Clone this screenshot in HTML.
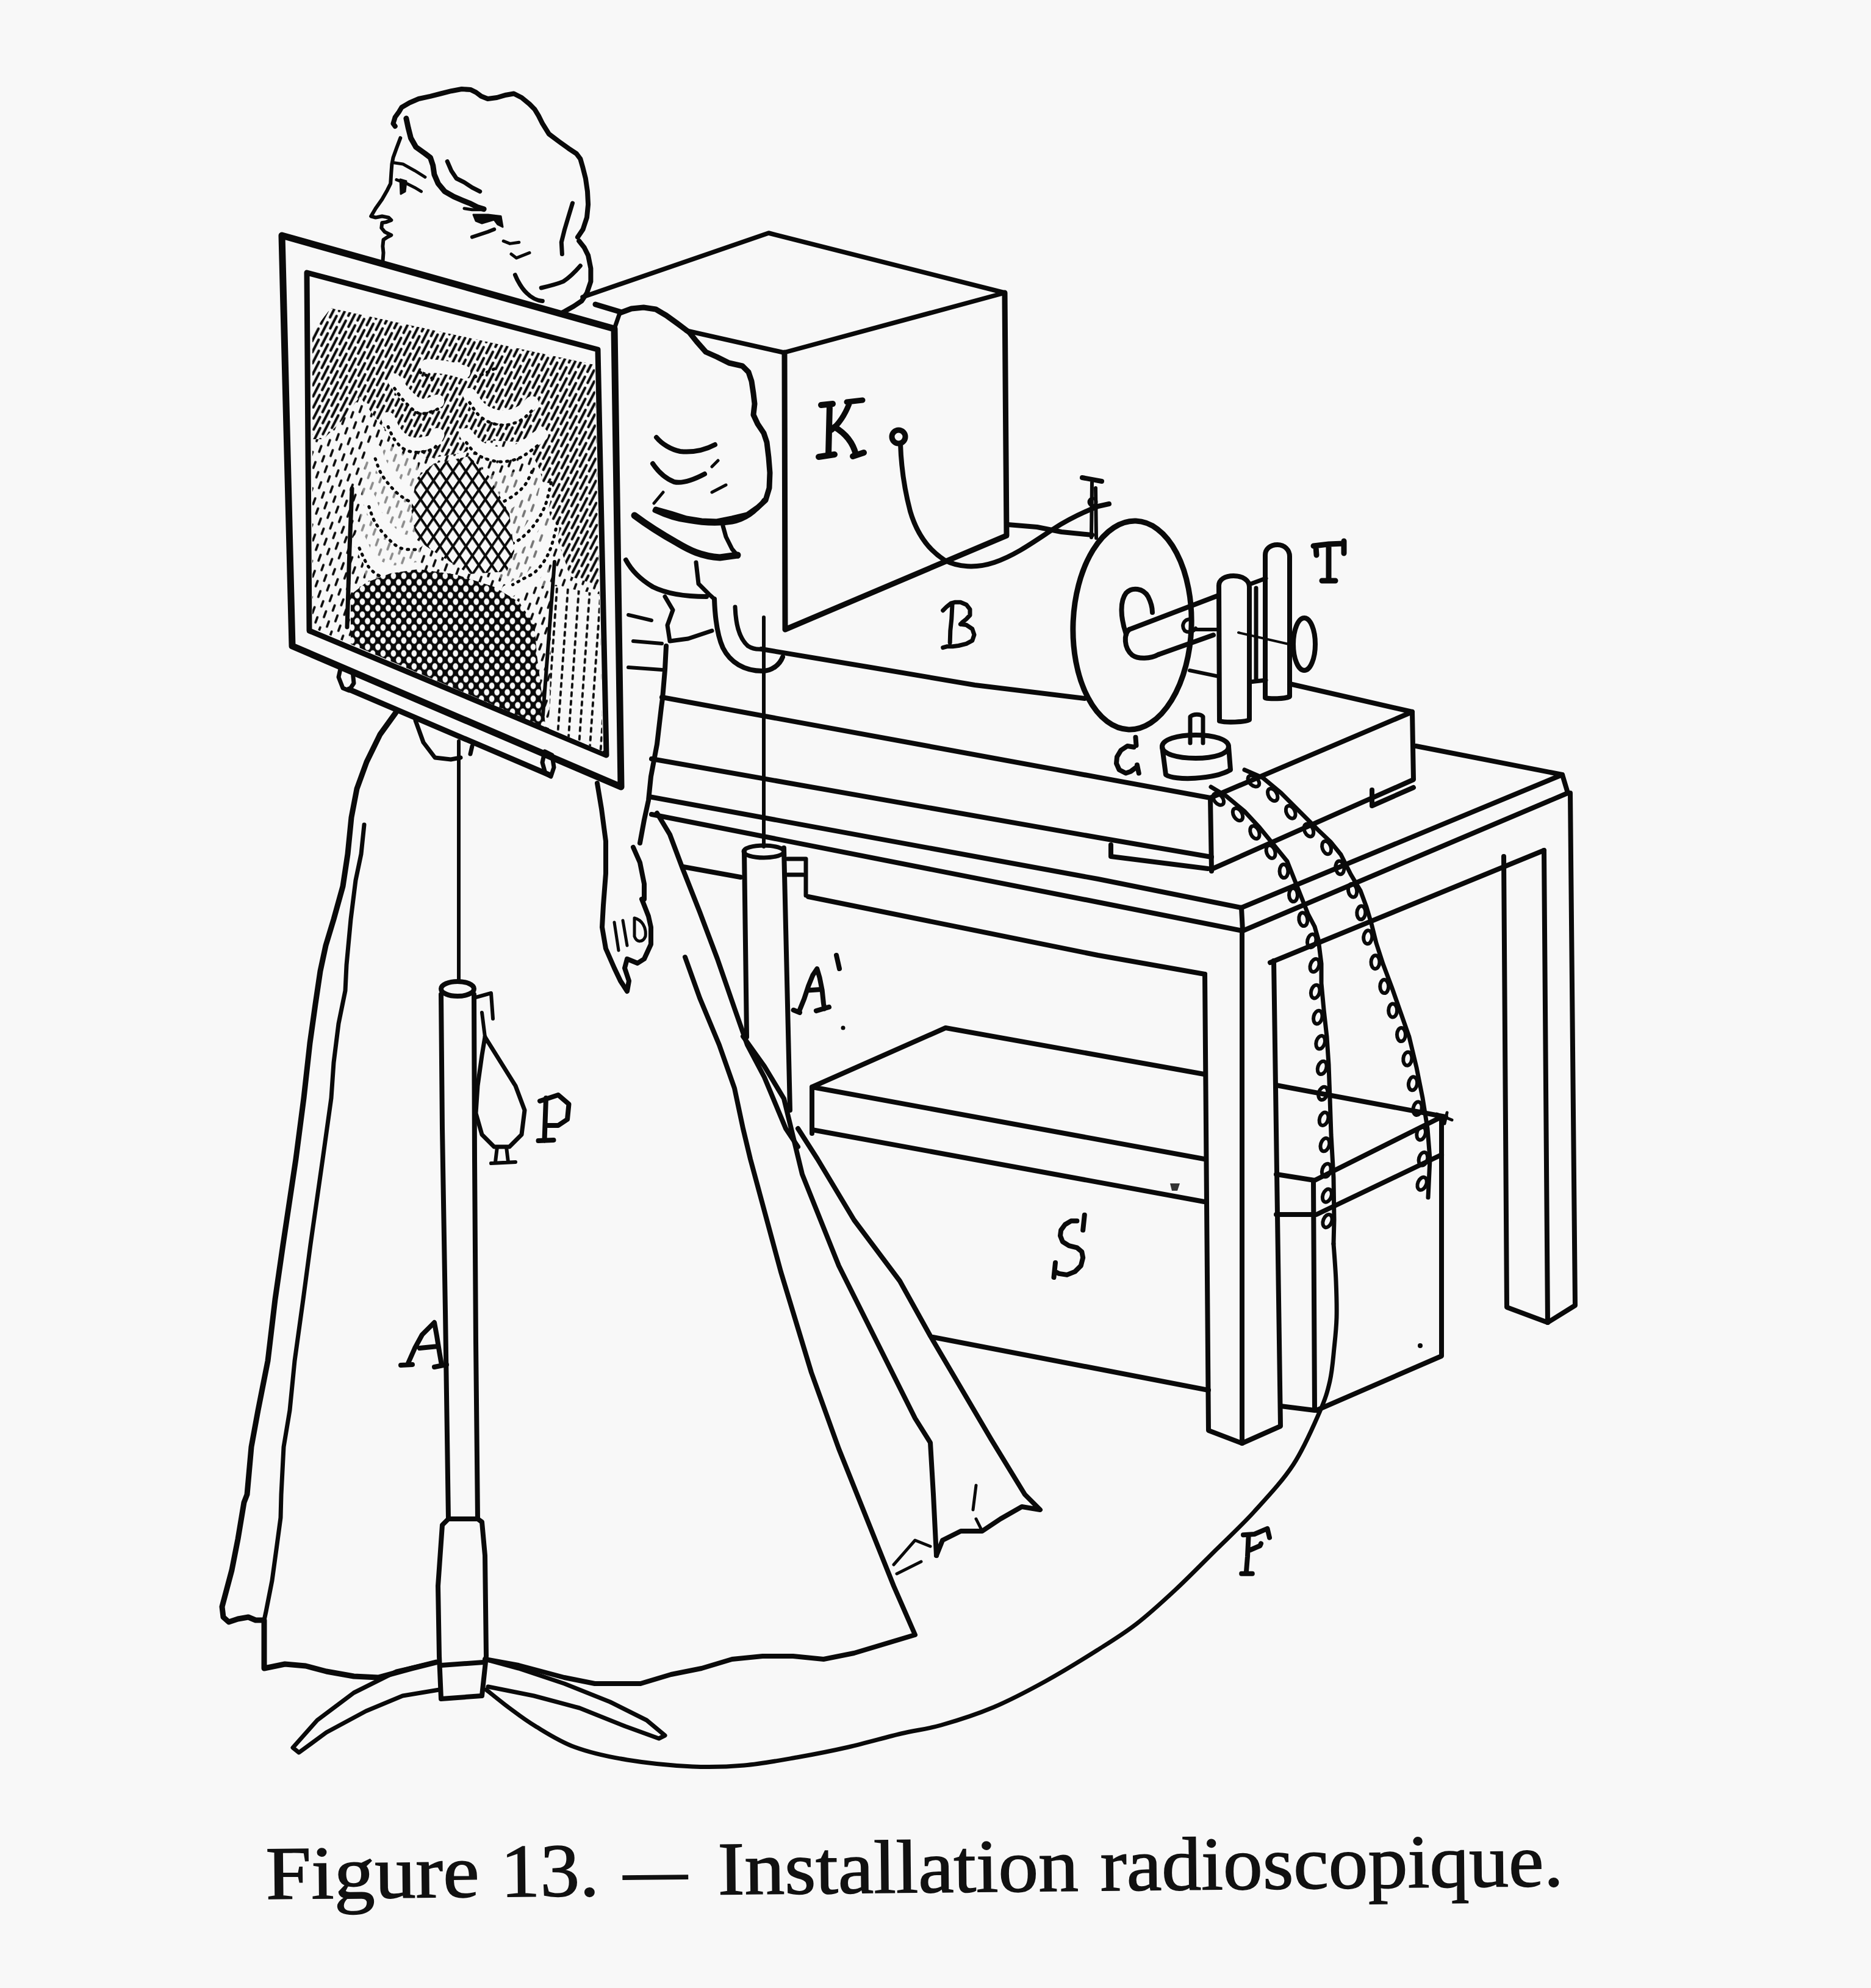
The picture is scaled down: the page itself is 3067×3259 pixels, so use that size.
<!DOCTYPE html>
<html><head><meta charset="utf-8"><style>
html,body{margin:0;padding:0;background:#f8f8f8;}
body{width:3067px;height:3259px;overflow:hidden;position:relative;}
svg{position:absolute;left:0;top:0;}
.capc{position:absolute;left:0;top:0;width:3067px;height:3259px;transform-origin:440px 3114px;transform:rotate(-0.58deg);}
.capc span{position:absolute;top:3010px;font-family:"Liberation Serif",serif;font-weight:normal;font-size:124px;color:#111;-webkit-text-stroke:1.6px #111;white-space:nowrap;line-height:1;transform-origin:0 0;}
</style></head><body>
<svg width="3067" height="3259" viewBox="0 0 3067 3259">
<defs>
<clipPath id="pic"><path d="M512,545 L542,505 L975,598 L988,1232 L512,1029 Z"/></clipPath>
<pattern id="hatch" patternUnits="userSpaceOnUse" width="17" height="32" patternTransform="rotate(27)">
 <line x1="4.25" y1="3" x2="4.25" y2="26" stroke="#0a0a0a" stroke-width="4.2" stroke-linecap="round"/>
 <line x1="12.75" y1="19" x2="12.75" y2="32" stroke="#0a0a0a" stroke-width="4.2" stroke-linecap="round"/>
 <line x1="12.75" y1="0" x2="12.75" y2="10" stroke="#0a0a0a" stroke-width="4.2" stroke-linecap="round"/>
</pattern>
<pattern id="hatchs" patternUnits="userSpaceOnUse" width="20" height="28" patternTransform="rotate(20)">
 <line x1="5" y1="3" x2="5" y2="13" stroke="#0a0a0a" stroke-width="3.8" stroke-linecap="round"/>
 <line x1="15" y1="17" x2="15" y2="26" stroke="#0a0a0a" stroke-width="3.8" stroke-linecap="round"/>
</pattern>
<pattern id="vdash" patternUnits="userSpaceOnUse" width="18" height="14" patternTransform="rotate(4)">
 <line x1="6" y1="3" x2="6" y2="9" stroke="#0a0a0a" stroke-width="3.8" stroke-linecap="round"/>
</pattern>
<pattern id="xh" patternUnits="userSpaceOnUse" width="15" height="15" patternTransform="scale(1,1.45) rotate(45)">
 <path d="M0,0 L15,0 M0,0 L0,15" stroke="#0a0a0a" stroke-width="7"/>
</pattern>
<pattern id="xh2" patternUnits="userSpaceOnUse" width="12" height="12" patternTransform="scale(1,1.25) rotate(45)">
 <rect width="12" height="12" fill="#0a0a0a"/>
 <circle cx="6" cy="6" r="4.3" fill="#f8f8f8"/>
</pattern>
</defs>
<g fill="none" stroke="#0a0a0a" stroke-linecap="round" stroke-linejoin="round">
<g id="head" stroke-width="8">
<path d="M647.7,207 L644.5,202.7 647.7,192 654,183.4 658.4,176 671.2,168.5 686.2,162 705.4,157.8 722.5,153.5 739.7,149.2 756.8,146 771.7,147.1 780.3,151.4 788.8,157.8 799.5,162 814.5,160 829.4,155.7 842.3,153.5 855.1,160 868,170.6 876.5,179.2 882.9,189.9 889.3,202.7 900,219.8 917.1,232.6 932,243.3 944.9,251.9 951.3,260.4 955.6,275.4 959.9,292.5 963,313.9 964.1,335.2 962,356.6 955.6,375.9 947,388.7"/>
<path d="M949.2,395.1 L957.7,405.8 964.1,418.6 968.4,440 968.4,461.4 962,480.6 953.4,493.4 940.6,502 925.6,510.5 917.1,514.8"/>
<path d="M887.2,472 C900,469 915,465 923.5,461.4 C933,455 945,443 951.3,435.7" stroke-width="7"/>
<path d="M844.4,450.7 C848,460 856,474 863.6,480.6 C870,487 880,493 889.3,493.4" stroke-width="7"/>
<path d="M938.5,333.1 L932,354.5 925.6,375.9 920.3,397.2 921.4,416.5" stroke-width="7"/>
<path d="M665.9,194.1 L669.1,209.1 673.4,226.2 681.9,241.2 696.9,251.9 705.4,258.3 709.7,271.1 711.9,286.1 718.3,301 729,313.9 743.9,322.4 758.9,328.8 769.6,333.1 782.4,339.5 793.1,342.7" stroke-width="9"/>
<path d="M733.2,264.7 L739.7,279.7 748.2,292.5 761,298.9 773.9,307.4 786.7,313.9" stroke-width="7"/>
<path d="M656.3,226.2 L649.9,243.3 644.5,258.3 642.4,269 641.3,283.9 640.2,301 634.9,311.7 626.3,326.7 615.7,341.7 608.2,354.5 615.7,356.6 626.3,354.5 637,356.6 641.3,360.9 632.8,364.1 626.3,365.2 625.3,373.7 630.6,380.1 641.3,385.5 634.9,388.7 628.5,393 627.4,403.7 628.5,414.4 627.4,429.3" stroke-width="6"/>
<path d="M645.6,266.8 L660.6,269 679.8,279.7 696.9,290.3" stroke-width="5"/>
<path d="M649.9,294.6 L667,301 679.8,307.4 690.5,313.9" stroke-width="5"/>
<path d="M656,294 L666,297 664,314 657,318 Z" fill="#0a0a0a" stroke-width="3"/>
<path d="M773.9,388.7 L786.7,384.4 799.5,380.1 810.2,375.9" stroke-width="6"/>
<path d="M761,341.7 L773.9,343.8 793.1,343.8" stroke-width="5"/>
<path d="M776,352 L800,352 821,354.5 824,372 816,368 810,360 790,366 780,362 Z" fill="#0a0a0a" stroke-width="3"/>
<path d="M825.2,395.1 L835.9,399.4 850.8,397.2" stroke-width="5"/>
<path d="M838,416.5 L846.6,422.9 868,414.4" stroke-width="5"/>
</g>
<g id="frame">
<path d="M462,386 L1007,539 L1018,1290 L479,1059 Z" stroke-width="11"/>
<path d="M503,447 L980,573 L994,1238 L507,1034 Z" stroke-width="9"/>
<path d="M572,1130 L902,1271" stroke-width="9"/>
<path d="M559,1092 L555,1110 562,1128 572,1132 580,1120 578,1100 Z" stroke-width="7"/>
<path d="M893,1232 L889,1250 894,1268 903,1273 908,1258 905,1238 Z" stroke-width="7"/>
<path d="M1007,539 L1016,513" stroke-width="7"/>
</g>
<g id="xray" clip-path="url(#pic)" stroke="none">
<rect x="500" y="440" width="500" height="800" fill="url(#hatchs)"/>
<path d="M512,545 L542,505 L975,598 L982,960 L935,945 L905,860 L885,770 L862,725 L800,722 L760,742 L700,752 L660,732 L620,692 L590,650 L560,690 L530,720 L512,720 Z" fill="#f8f8f8"/>
<path d="M512,545 L542,505 L975,598 L982,960 L935,945 L905,860 L885,770 L862,725 L800,722 L760,742 L700,752 L660,732 L620,692 L590,650 L560,690 L530,720 L512,720 Z" fill="url(#hatch)"/>
<path d="M905,960 L988,975 L988,1232 L900,1195 Z" fill="#f8f8f8"/>
<path d="M905,960 L988,975 L988,1232 L900,1195 Z" fill="url(#vdash)"/>
<path d="M600,735 L640,730 685,760 690,960 640,965 600,950 588,880 Z" fill="#f8f8f8" opacity="0.55"/>
<path d="M800,780 L870,770 900,800 900,960 840,965 800,930 Z" fill="#f8f8f8" opacity="0.45"/>
<g fill="none" stroke="#f8f8f8" stroke-width="22" stroke-linecap="round">
<path d="M646.7,623.7 C649.3,627.2 656.3,638.1 662.4,644.6 C668.5,651.1 677.2,659.7 683.3,663.0 C689.4,666.3 693.3,665.2 699.0,664.3 C704.7,663.4 714.3,658.8 717.4,657.7"/>
<path d="M636.2,686.5 C638.0,690.0 642.3,701.4 646.7,707.5 C651.1,713.6 656.3,719.7 662.4,723.2 C668.5,726.7 675.4,728.4 683.3,728.4 C691.1,728.4 703.8,725.8 709.5,723.2 C715.2,720.6 716.1,714.5 717.4,712.7"/>
<path d="M615.2,739.0 C617.0,743.3 620.5,756.3 625.7,765.0 C631.0,773.7 639.7,784.3 646.7,791.3 C653.7,798.3 662.4,804.0 667.6,807.0 C672.8,810.0 676.3,809.2 678.0,809.6"/>
<path d="M604.8,817.5 C606.5,821.9 610.0,835.0 615.2,843.7 C620.4,852.4 629.2,862.9 636.2,869.9 C643.2,876.9 649.4,882.5 657.2,885.6 C665.1,888.7 678.9,887.8 683.3,888.2"/>
<path d="M589.0,885.6 C591.6,890.8 598.7,909.1 604.8,917.0 C610.9,924.9 617.8,929.2 625.7,932.7 C633.6,936.2 642.4,938.0 652.0,938.0 C661.6,938.0 678.1,933.6 683.3,932.7"/>
<path d="M769.8,647.0 C772.0,650.1 777.7,660.3 782.9,665.6 C788.1,670.9 793.8,675.6 801.2,678.7 C808.6,681.8 818.7,684.5 827.4,684.0 C836.1,683.5 846.2,680.0 853.6,676.0 C861.0,672.0 868.9,662.9 872.0,660.3"/>
<path d="M764.5,712.7 C766.7,715.3 772.4,724.0 777.6,728.4 C782.9,732.8 788.6,736.4 796.0,739.0 C803.4,741.6 813.3,744.0 822.0,744.0 C830.7,744.0 840.9,741.6 848.4,739.0 C855.9,736.4 860.2,732.8 866.7,728.4 C873.2,724.0 884.1,715.3 887.6,712.7"/>
<path d="M864.0,783.9 C862.2,787.4 857.8,798.7 853.4,804.8 C849.0,810.9 843.8,815.7 837.7,820.5 C831.6,825.3 822.9,830.5 816.8,833.6 C810.7,836.7 803.6,838.0 801.0,838.9"/>
<path d="M895.4,802.2 C893.7,808.8 889.8,829.7 885.0,841.5 C880.2,853.3 873.1,864.3 866.5,873.0 C859.9,881.7 852.1,888.7 845.6,893.9 C839.1,899.1 830.3,902.6 827.3,904.3"/>
<path d="M905.8,867.7 C903.6,875.6 898.4,901.7 892.7,914.8 C887.0,927.9 879.6,938.3 871.8,946.2 C863.9,954.1 852.1,958.1 845.6,962.0 C839.1,965.9 834.7,968.2 832.5,969.5"/>
<path d="M700,600 Q730,600 760,610"/>
</g>
<g fill="none" stroke="#0a0a0a" stroke-width="5" stroke-dasharray="2 9" stroke-linecap="round">
<path d="M646.7,636.7 C649.3,640.2 656.3,651.1 662.4,657.6 C668.5,664.1 677.2,672.7 683.3,676.0 C689.4,679.3 693.3,678.2 699.0,677.3 C704.7,676.4 714.3,671.8 717.4,670.7"/>
<path d="M636.2,699.5 C638.0,703.0 642.3,714.4 646.7,720.5 C651.1,726.6 656.3,732.7 662.4,736.2 C668.5,739.7 675.4,741.4 683.3,741.4 C691.1,741.4 703.8,738.8 709.5,736.2 C715.2,733.6 716.1,727.5 717.4,725.7"/>
<path d="M615.2,752.0 C617.0,756.3 620.5,769.3 625.7,778.0 C631.0,786.7 639.7,797.3 646.7,804.3 C653.7,811.3 662.4,817.0 667.6,820.0 C672.8,823.0 676.3,822.2 678.0,822.6"/>
<path d="M604.8,830.5 C606.5,834.9 610.0,848.0 615.2,856.7 C620.4,865.4 629.2,875.9 636.2,882.9 C643.2,889.9 649.4,895.5 657.2,898.6 C665.1,901.7 678.9,900.8 683.3,901.2"/>
<path d="M589.0,898.6 C591.6,903.8 598.7,922.1 604.8,930.0 C610.9,937.9 617.8,942.2 625.7,945.7 C633.6,949.2 642.4,951.0 652.0,951.0 C661.6,951.0 678.1,946.6 683.3,945.7"/>
<path d="M769.8,660.0 C772.0,663.1 777.7,673.3 782.9,678.6 C788.1,683.9 793.8,688.6 801.2,691.7 C808.6,694.8 818.7,697.5 827.4,697.0 C836.1,696.5 846.2,693.0 853.6,689.0 C861.0,685.0 868.9,675.9 872.0,673.3"/>
<path d="M764.5,725.7 C766.7,728.3 772.4,737.0 777.6,741.4 C782.9,745.8 788.6,749.4 796.0,752.0 C803.4,754.6 813.3,757.0 822.0,757.0 C830.7,757.0 840.9,754.6 848.4,752.0 C855.9,749.4 860.2,745.8 866.7,741.4 C873.2,737.0 884.1,728.3 887.6,725.7"/>
<path d="M872.0,772.9 C870.2,776.4 865.8,787.7 861.4,793.8 C857.0,799.9 851.8,804.7 845.7,809.5 C839.6,814.3 830.9,819.5 824.8,822.6 C818.7,825.7 811.6,827.0 809.0,827.9"/>
<path d="M903.4,791.2 C901.7,797.8 897.8,818.7 893.0,830.5 C888.2,842.3 881.1,853.3 874.5,862.0 C867.9,870.7 860.1,877.7 853.6,882.9 C847.1,888.1 838.3,891.6 835.3,893.3"/>
<path d="M913.8,856.7 C911.6,864.6 906.4,890.7 900.7,903.8 C895.0,916.9 887.6,927.3 879.8,935.2 C871.9,943.1 860.1,947.1 853.6,951.0 C847.1,954.9 842.7,957.2 840.5,958.5"/>
<path d="M688,610 L710,621"/>
<path d="M778,618 L793,613 814,603"/>
</g>

<!-- heart crosshatch -->
<path d="M711,760 L769,748 802,781 835,842 843,904 831,937 769,941 711,904 682,884 674,834 682,785 Z" fill="#f8f8f8"/>
<path d="M711,760 L769,748 802,781 835,842 843,904 831,937 769,941 711,904 682,884 674,834 682,785 Z" fill="url(#xh)"/>
<!-- diaphragm crosshatch -->
<path d="M575,975 L600,955 640,940 686,933 748,942 810,962 851,987 876,1024 880,1073 892,1168 895,1200 575,1060 Z" fill="url(#xh2)"/>
</g>
<g id="xraylines">
<path d="M577,801 L573,900 569,1028" stroke-width="7"/>
<path d="M909,921 L900,1040 890,1172" stroke-width="6"/>
</g>
<g id="kbox" stroke-width="9">
<path d="M955,487 L1260,382 L1647,480 L1285,578 L1125,542" stroke-width="7.5"/>
<path d="M1647,480 L1650,878 L1287,1032 L1286,578"/>
<path d="M976,499 L1016,511"/>
<circle cx="1473" cy="716" r="11" stroke-width="9"/>
<path d="M1476,727 C1477,760 1482,800 1492,838 C1502,872 1520,900 1548,918 C1570,930 1600,932 1630,922 C1665,910 1695,888 1727,867 C1750,852 1775,840 1800,830 L1818,826" stroke-width="8"/>
</g>
<g id="base" stroke-width="8">
<path d="M1652,860 L1700,864 L1740,872 L1790,877"/>
<path d="M1248,1064 L1427,1094 L1598,1123 L1778,1145"/>
<path d="M1171,982 C1172,1010 1175,1040 1185,1062 C1197,1086 1220,1100 1250,1100 C1265,1100 1278,1090 1283,1077" stroke-width="8"/>
<path d="M1205,995 C1206,1020 1210,1045 1226,1059 C1234,1064 1242,1065 1250,1064" stroke-width="7"/>
<path d="M1774,783 L1806,789" stroke-width="8"/>
<path d="M1790,791 L1789,881 M1796,800 L1797,882" stroke-width="6"/>
<circle cx="1791" cy="823" r="6" stroke-width="5"/>
</g>
<g id="disk" stroke-width="9">
<ellipse cx="1856" cy="1025" rx="97" ry="171" transform="rotate(2 1856 1025)"/>
<path d="M1846,1040 C1836,1010 1836,985 1846,972 C1856,962 1874,964 1882,978 C1887,988 1889,996 1889,1004" stroke-width="8"/>
<path d="M1851,1032 L1995,977 M1899,1073 L1989,1041" stroke-width="8"/>
<path d="M1851,1032 C1842,1040 1842,1062 1856,1074 C1866,1081 1886,1080 1899,1073" stroke-width="8"/>
<path d="M1957,1032 L1995,1032 M1950,1099 L1998,1109" stroke-width="6"/>
<path d="M1950,1015 C1940,1016 1936,1026 1942,1034 C1948,1038 1956,1036 1960,1030" stroke-width="6"/>
<path d="M1999,1182 L1998,960 C1998,950 2008,944 2022,944 C2038,944 2048,952 2048,962 L2048,1180 C2040,1184 2010,1185 1999,1182 Z" stroke-width="8"/>
<path d="M2048,958 L2075,948 M2048,1118 L2075,1115 M2059,964 L2059,1115" stroke-width="7"/>
<path d="M2074,1144 L2074,910 C2074,900 2082,893 2094,893 C2106,893 2114,902 2114,912 L2114,1142 C2105,1146 2082,1146 2074,1144 Z" stroke-width="8"/>
<ellipse cx="2138" cy="1056" rx="18" ry="43" stroke-width="8"/>
<path d="M2030,1037 L2117,1057" stroke-width="4"/>
</g>
<g id="gcyl" stroke-width="8">
<path d="M1905,1224 C1905,1212 1930,1205 1960,1205 C1990,1205 2014,1212 2014,1224 C2014,1236 1990,1243 1960,1243 C1930,1243 1905,1236 1905,1224 Z"/>
<path d="M1905,1224 L1911,1270 C1925,1280 1990,1278 2017,1262 L2014,1224"/>
<path d="M1951,1218 L1951,1175 C1956,1170 1968,1170 1972,1175 L1972,1218" stroke-width="7"/>
</g>
<g id="slab" stroke-width="8">
<path d="M2114,1121 L2315,1167 L2317,1278 L1988,1424"/>
<path d="M1984,1308 L2315,1167"/>
<path d="M1085,1143 L1984,1308 L1986,1428"/>
<path d="M1068,1244 L1800,1373 L1986,1405"/>
</g>

<g id="slab2" stroke-width="8">
<path d="M1821,1385 L1821,1404 L1980,1424"/>
<path d="M2249,1295 L2249,1321 L2317,1291"/>
</g>
<g id="table" stroke-width="8">
<path d="M1064,1306 L1800,1441 L2035,1488 L2561,1270 L2321,1223"/>
<path d="M1068,1335 L1800,1479 L2037,1526 L2570,1300 L2561,1270"/>
<path d="M2035,1488 L2037,1526"/>
<path d="M1120,1421 L1214,1438 M1325,1470 L1800,1566 L1975,1597"/>
<path d="M2082,1578 L2531,1394"/>
<path d="M1975,1597 L1981,2345 L2036,2366 L2099,2338 L2088,1575"/>
<path d="M2036,1526 L2036,2366"/>
<path d="M2465,1404 L2470,2143 L2537,2168 L2582,2140 L2574,1300"/>
<path d="M2531,1394 L2537,2168"/>
</g>
<g id="apole" stroke-width="8">
<ellipse cx="1252" cy="1396" rx="33" ry="10" stroke-width="7"/>
<path d="M1220,1396 L1224,1700"/>
<path d="M1285,1390 L1295,1820"/>
<path d="M1252,1012 L1252,1388" stroke-width="6"/>
<path d="M1291,1408 L1321,1408 L1321,1468 M1291,1434 L1316,1434" stroke-width="7"/>
</g>
<g id="sbox" stroke-width="8">
<path d="M1331,1858 L1331,1782 L1550,1685 L1974,1761"/>
<path d="M2092,1779 L2370,1831 L2363,1831 L2363,2223 L2158,2312"/>
<path d="M1331,1782 L1974,1900 M2092,1925 L2155,1935 L2363,1831"/>
<path d="M1331,1852 L1974,1970 M2092,1991 L2158,1991 L2363,1893"/>
<path d="M2153,1935 L2155,2312 L2099,2305"/>
<path d="M1529,2192 L1981,2279"/>
</g>
<circle cx="2328" cy="2206" r="4" fill="#0a0a0a" stroke="none"/>
<path d="M1918,1940 L1934,1940 L1930,1952 L1921,1952 Z" fill="#333" stroke="none"/>
<path d="M2355,1826 L2380,1836 M2372,1824 L2368,1842" stroke-width="5"/>

<g id="woman" stroke-width="8">
<!-- sleeve -->
<path d="M1016,513 L1035,506 1055,504 1075,507 1092,517 1110,530 1130,545 1142,560 1157,577 1175,585 1195,595 1217,600 1227,610 1232,625 1235,645 1237,662 1235,680 1242,695 1252,710 1257,725 1260,750 1262,775 1261,800 1255,820 1242,832 1225,844 1200,850 1175,855 1150,854 1125,850 1100,842 1075,835" stroke-width="9"/>
<path d="M1076,717 C1085,728 1100,737 1115,740 C1135,742 1155,738 1172,729" stroke-width="8"/>
<path d="M1070,760 C1078,772 1090,784 1105,790 C1118,793 1138,786 1155,777" stroke-width="8"/>
<path d="M1167,765 L1177,755 M1167,807 L1190,795 M1072,825 L1087,807" stroke-width="5"/>
<path d="M1040,845 C1060,860 1085,876 1110,890 C1130,902 1150,912 1180,914 L1209,910" stroke-width="11"/>
<path d="M1073,837 C1090,845 1110,852 1128,854 C1150,858 1175,860 1200,856 C1220,852 1240,840 1252,820" stroke-width="7"/>
<path d="M1185,862 L1190,880 1200,900 1210,912" stroke-width="7"/>
<path d="M1141,922 L1145,957 1162,974 1171,982" stroke-width="7"/>
<path d="M1026,918 C1035,935 1050,950 1070,962 C1090,972 1120,978 1158,978" stroke-width="8"/>
<path d="M1090,978 L1103,1000 1094,1025 1098,1051 1128,1047 1167,1034" stroke-width="7"/>
<path d="M1030,1008 L1068,1017 M1038,1051 L1085,1055 M1030,1094 L1085,1098" stroke-width="6"/>
<!-- bodice right edge -->
<path d="M1092,1059 L1090,1098 1086,1145 1084,1160 1077,1220 1067,1273 1063,1312 1056,1344 1049,1382" stroke-width="8"/>
<!-- arm -->
<path d="M979,1284 L986,1326 993,1379 993,1432 989,1484 987,1520 993,1555 1007,1587 1017,1608 1028,1625 1031,1608 1024,1587 1028,1572 1045,1579 1056,1572 1067,1548 1067,1520 1063,1502 1056,1484 1052,1474" stroke-width="8"/>
<path d="M1038,1389 L1049,1414 1056,1449 1056,1474" stroke-width="8"/>
<path d="M1007,1512 L1014,1558 M1021,1509 L1028,1550 M1040,1505 C1052,1508 1060,1520 1058,1535 C1054,1545 1044,1546 1040,1535 Z" stroke-width="5"/>
<!-- torso below screen -->
<path d="M681,1181 L694,1217 713,1242 739,1245 755,1242" stroke-width="7"/>
<path d="M771,1236 L774,1223" stroke-width="7"/>
<!-- dress left outer -->
<path d="M649,1168 L623,1204 601,1249 585,1293 576,1340 570,1400 562,1453 547,1507 534,1550 525,1592 517,1646 508,1710 498,1800 485,1900 464,2040 451,2130 439,2231 423,2312 412,2372 405,2450 400,2463 390,2523 380,2574 364,2634 366,2651 375,2659 390,2654 407,2651 419,2656 433,2656 L433,2735 467,2728 501,2731 535,2740 580,2748 620,2750 675,2735 715,2725" stroke-width="9"/>
<!-- dress left inner fold -->
<path d="M597,1352 L592,1400 583,1443 575,1507 568,1582 566,1624 555,1678 547,1742 543,1800 529,1900 509,2040 497,2130 483,2231 475,2312 465,2372 461,2450 460,2488 453,2540 446,2591 436,2642 433,2656" stroke-width="7"/>
<!-- dress right lines -->
<path d="M1077,1333 L1098,1368 1119,1424 1147,1495 1176,1572 1204,1653 1225,1713 1253,1766 1288,1850 1308,1880" stroke-width="8"/>
<path d="M1123,1569 L1147,1636 1179,1713 1204,1784 1218,1850 1230,1900 1280,2085 1330,2250 1375,2375 1425,2500 1465,2600 1500,2680 1450,2695 1400,2710 1350,2720 1300,2715 1250,2715 1200,2720 1150,2735 1100,2745 1050,2760 975,2760 925,2750 850,2730 795,2720" stroke-width="8"/>
<path d="M1218,1699 L1253,1748 1285,1801 1315,1925 1375,2075 1450,2225 1500,2325 1525,2365 1530,2450 1535,2550" stroke-width="8"/>
<path d="M1308,1850 L1340,1900 1400,2000 1475,2100 1525,2190 1575,2275 1625,2360 1680,2450 1705,2475 1675,2470 1640,2490 1610,2510 1575,2510 1545,2525 1535,2550" stroke-width="8"/>
<path d="M1465,2565 L1500,2525 1525,2535 M1470,2580 L1510,2560 M1600,2435 L1595,2475 M1600,2490 L1610,2510" stroke-width="5"/>
</g>
<g id="stand" stroke-width="8">
<path d="M752,1215 L752,1608" stroke-width="6"/>
<ellipse cx="750" cy="1621" rx="27" ry="12" stroke-width="8"/>
<path d="M723,1630 L725,1850 730,2150 735,2490"/>
<path d="M777,1630 L778,1900 780,2200 783,2490"/>
<path d="M735,2490 L725,2500 718,2600 720,2715 723,2785 L790,2780 797,2715 795,2550 790,2495 L783,2490 Z"/>
<path d="M723,2730 L793,2725"/>
<path d="M715,2725 L650,2740 580,2775 520,2820 480,2865 490,2873 535,2840 600,2805 660,2780 720,2770" stroke-width="7"/>
<path d="M795,2720 L850,2735 925,2760 1000,2790 1060,2820 1090,2845 1080,2850 1025,2830 950,2800 875,2780 800,2765" stroke-width="7"/>
<path d="M795,1700 L820,1740 845,1780 860,1820 855,1860 835,1880 810,1880 790,1860 780,1825 783,1780 790,1730 795,1700" stroke-width="7"/>
<path d="M780,1635 L805,1628 808,1670 M790,1660 L795,1700" stroke-width="6"/>
<path d="M815,1880 L812,1905 M830,1880 L833,1905 M805,1907 L845,1905" stroke-width="6"/>
</g>
<g id="cableF" stroke-width="8">
<path d="M2186.0,2039.0 C2186.7,2049.2 2189.2,2079.8 2190.0,2100.0 C2190.8,2120.2 2191.5,2141.7 2191.0,2160.0 C2190.5,2178.3 2188.8,2192.7 2187.0,2210.0 C2185.2,2227.3 2184.0,2246.5 2180.0,2264.0 C2176.0,2281.5 2173.0,2292.2 2163.0,2315.0 C2153.0,2337.8 2137.8,2373.8 2120.0,2401.0 C2102.2,2428.2 2077.3,2454.5 2056.0,2478.0 C2034.7,2501.5 2013.5,2520.7 1992.0,2542.0 C1970.5,2563.3 1948.5,2586.0 1927.0,2606.0 C1905.5,2626.0 1884.3,2645.5 1863.0,2662.0 C1841.7,2678.5 1823.8,2689.3 1799.0,2705.0 C1774.2,2720.7 1742.5,2740.3 1714.0,2756.0 C1685.5,2771.7 1656.5,2787.0 1628.0,2799.0 C1599.5,2811.0 1568.2,2820.8 1543.0,2828.0 C1517.8,2835.2 1502.3,2836.0 1477.0,2842.0 C1451.7,2848.0 1419.5,2857.5 1391.0,2864.0 C1362.5,2870.5 1334.5,2876.0 1306.0,2881.0 C1277.5,2886.0 1248.5,2891.5 1220.0,2894.0 C1191.5,2896.5 1167.0,2897.5 1135.0,2896.0 C1103.0,2894.5 1060.2,2890.3 1028.0,2885.0 C995.8,2879.7 967.0,2873.2 942.0,2864.0 C917.0,2854.8 895.8,2840.7 878.0,2830.0 C860.2,2819.3 848.5,2810.0 835.0,2800.0 C821.5,2790.0 803.3,2775.0 797.0,2770.0" stroke-width="7"/>
</g>

<g id="coil">
<path d="M1985,1290 L2010,1305 L2040,1330 L2065,1357 L2088,1385 L2110,1412 L2131,1465 L2144,1498 L2155,1519 L2161,1540 L2166,1580 L2166,1612 L2170,1655 L2175,1700 L2178,1745 L2180,1800 L2182,1860 L2186,1930 L2187,2000 L2186,2039" stroke-width="7"/>
<ellipse cx="1997.3" cy="1310.2" rx="7" ry="11" transform="rotate(-39.0 1997.3 1310.2)" stroke-width="6"/>
<ellipse cx="2029.0" cy="1335.1" rx="7" ry="11" transform="rotate(-30.2 2029.0 1335.1)" stroke-width="6"/>
<ellipse cx="2056.9" cy="1364.5" rx="7" ry="11" transform="rotate(-22.8 2056.9 1364.5)" stroke-width="6"/>
<ellipse cx="2083.1" cy="1396.4" rx="7" ry="11" transform="rotate(-19.2 2083.1 1396.4)" stroke-width="6"/>
<ellipse cx="2104.5" cy="1428.1" rx="7" ry="11" transform="rotate(-1.6 2104.5 1428.1)" stroke-width="6"/>
<ellipse cx="2120.0" cy="1467.1" rx="7" ry="11" transform="rotate(-1.6 2120.0 1467.1)" stroke-width="6"/>
<ellipse cx="2136.3" cy="1507.1" rx="7" ry="11" transform="rotate(-7.6 2136.3 1507.1)" stroke-width="6"/>
<ellipse cx="2150.2" cy="1542.3" rx="7" ry="11" transform="rotate(12.9 2150.2 1542.3)" stroke-width="6"/>
<ellipse cx="2155.0" cy="1582.6" rx="7" ry="11" transform="rotate(20.0 2155.0 1582.6)" stroke-width="6"/>
<ellipse cx="2156.2" cy="1625.6" rx="7" ry="11" transform="rotate(14.7 2156.2 1625.6)" stroke-width="6"/>
<ellipse cx="2160.3" cy="1667.6" rx="7" ry="11" transform="rotate(13.7 2160.3 1667.6)" stroke-width="6"/>
<ellipse cx="2164.6" cy="1708.8" rx="7" ry="11" transform="rotate(16.2 2164.6 1708.8)" stroke-width="6"/>
<ellipse cx="2167.2" cy="1750.4" rx="7" ry="11" transform="rotate(17.9 2167.2 1750.4)" stroke-width="6"/>
<ellipse cx="2168.7" cy="1792.4" rx="7" ry="11" transform="rotate(17.9 2168.7 1792.4)" stroke-width="6"/>
<ellipse cx="2170.1" cy="1834.3" rx="7" ry="11" transform="rotate(18.1 2170.1 1834.3)" stroke-width="6"/>
<ellipse cx="2171.9" cy="1876.6" rx="7" ry="11" transform="rotate(16.7 2171.9 1876.6)" stroke-width="6"/>
<ellipse cx="2174.3" cy="1918.5" rx="7" ry="11" transform="rotate(16.7 2174.3 1918.5)" stroke-width="6"/>
<ellipse cx="2175.4" cy="1960.0" rx="7" ry="11" transform="rotate(19.2 2175.4 1960.0)" stroke-width="6"/>
<ellipse cx="2176.0" cy="2001.6" rx="7" ry="11" transform="rotate(21.5 2176.0 2001.6)" stroke-width="6"/>
<path d="M2040,1262 L2070,1275 L2100,1300 L2130,1330 L2160,1360 L2181,1380 L2198,1401 L2214,1433 L2230,1460 L2240,1487 L2248,1514 L2256,1546 L2267,1580 L2282,1620 L2296,1660 L2310,1700 L2322,1750 L2332,1800 L2340,1850 L2344,1900 L2341,1963" stroke-width="7"/>
<ellipse cx="2054.9" cy="1280.4" rx="7" ry="11" transform="rotate(-46.6 2054.9 1280.4)" stroke-width="6"/>
<ellipse cx="2086.2" cy="1302.9" rx="7" ry="11" transform="rotate(-30.2 2086.2 1302.9)" stroke-width="6"/>
<ellipse cx="2115.7" cy="1331.3" rx="7" ry="11" transform="rotate(-25.0 2115.7 1331.3)" stroke-width="6"/>
<ellipse cx="2145.4" cy="1361.0" rx="7" ry="11" transform="rotate(-25.0 2145.4 1361.0)" stroke-width="6"/>
<ellipse cx="2174.6" cy="1389.6" rx="7" ry="11" transform="rotate(-19.0 2174.6 1389.6)" stroke-width="6"/>
<ellipse cx="2196.4" cy="1422.4" rx="7" ry="11" transform="rotate(-6.6 2196.4 1422.4)" stroke-width="6"/>
<ellipse cx="2217.1" cy="1459.8" rx="7" ry="11" transform="rotate(-10.7 2217.1 1459.8)" stroke-width="6"/>
<ellipse cx="2231.3" cy="1496.3" rx="7" ry="11" transform="rotate(3.5 2231.3 1496.3)" stroke-width="6"/>
<ellipse cx="2242.2" cy="1536.3" rx="7" ry="11" transform="rotate(6.0 2242.2 1536.3)" stroke-width="6"/>
<ellipse cx="2254.5" cy="1577.2" rx="7" ry="11" transform="rotate(2.1 2254.5 1577.2)" stroke-width="6"/>
<ellipse cx="2269.2" cy="1617.1" rx="7" ry="11" transform="rotate(-0.6 2269.2 1617.1)" stroke-width="6"/>
<ellipse cx="2283.1" cy="1656.5" rx="7" ry="11" transform="rotate(0.7 2283.1 1656.5)" stroke-width="6"/>
<ellipse cx="2297.0" cy="1696.1" rx="7" ry="11" transform="rotate(0.7 2297.0 1696.1)" stroke-width="6"/>
<ellipse cx="2307.3" cy="1735.7" rx="7" ry="11" transform="rotate(6.5 2307.3 1735.7)" stroke-width="6"/>
<ellipse cx="2316.0" cy="1776.3" rx="7" ry="11" transform="rotate(8.7 2316.0 1776.3)" stroke-width="6"/>
<ellipse cx="2323.6" cy="1817.2" rx="7" ry="11" transform="rotate(10.9 2323.6 1817.2)" stroke-width="6"/>
<ellipse cx="2329.6" cy="1857.9" rx="7" ry="11" transform="rotate(15.4 2329.6 1857.9)" stroke-width="6"/>
<ellipse cx="2332.9" cy="1899.7" rx="7" ry="11" transform="rotate(15.4 2332.9 1899.7)" stroke-width="6"/>
<ellipse cx="2331.1" cy="1940.3" rx="7" ry="11" transform="rotate(22.7 2331.1 1940.3)" stroke-width="6"/>
</g>
<g id="labels" stroke-width="8">
<!-- K -->
<path d="M1360,664 L1358,746 M1346,664 L1365,662 M1342,749 L1368,745" stroke-width="10"/>
<path d="M1363,705 C1375,695 1385,680 1392,662 M1388,659 L1414,656" stroke-width="9"/>
<path d="M1368,700 C1385,710 1398,725 1403,745 M1398,748 L1416,742" stroke-width="10"/>
<!-- B -->
<path d="M1545.7,1000.8 L1552,994.4 1558.5,989.2 1565,987.3 1574.5,987.3 1584,991.2 1590,998.9 1590,1008.5 1584,1014.9 1577.7,1020 1574.5,1023.2 M1561,991.2 L1559.8,1014.9 1557.8,1034 1557.2,1053.4 M1574.5,1023.2 L1584,1024.5 1593.8,1031 1597,1040.6 1593.8,1050.2 1584,1055.3 1571.3,1058.5 1561.7,1059.8 1552,1059.8 1545.7,1061.7" stroke-width="7"/>
<!-- T -->
<path d="M2153,895 L2178,892 2202,891 M2157,896 L2158,910 M2203,887 L2203,907 M2178,893 L2178,951 M2167,952 L2189,952" stroke-width="9"/>
<!-- G -->
<path d="M1861.5,1208.7 L1862.5,1222 M1858.8,1224.7 L1848,1223 1837.4,1230 1831,1240.8 1830,1251.5 1834.7,1262 1845.4,1267.5 1853.4,1264.8 1864,1256.8 M1864,1254 L1866.8,1267.5" stroke-width="8"/>
<!-- A' -->
<path d="M1309.7,1658.6 L1318.2,1637.5 1325.2,1616.3 1332.3,1598.7 1339.3,1588.2 1343.5,1602.3 1347.7,1623.4 1349.9,1644.5 1351.3,1653.7 M1323.8,1623.4 L1346.3,1622 M1300.6,1655.8 L1311,1660 M1337.9,1657.2 L1359,1650.8 M1371,1566 L1376,1588" stroke-width="8"/>
<circle cx="1382" cy="1685" r="3.5" fill="#0a0a0a" stroke="none"/>
<!-- S -->
<path d="M1777.8,1991.8 L1775.2,2016.6 M1765.4,2001.6 L1755.6,2001.6 1745.8,2007.5 1739.2,2016.6 1738,2025.8 1741.9,2035.6 1752.3,2042.1 1765.4,2045.4 1773.3,2052 1775.2,2061.8 1771.9,2074.8 1762.1,2084.6 1749,2089.9 1736,2087.9 1729.4,2084.6 M1730,2070 L1727.5,2094" stroke-width="8"/>
<!-- A -->
<path d="M668,2237 L680,2210 692,2188 712,2168 716,2190 720,2215 724,2238 M688,2210 L718,2207 M657,2238 L676,2237 M712,2241 L732,2237" stroke-width="8"/>
<!-- P -->
<path d="M895,1800 L892.5,1870 M882.5,1870 L907.5,1869 M885,1805 L915,1795 932.5,1810 930,1835 915,1845 897.5,1845" stroke-width="8"/>
<!-- F -->
<path d="M2038,2516.3 L2056.3,2515 2077.5,2505.8 2081,2520.6 M2046.5,2519.9 L2045,2551.5 2043,2576.2 M2035.2,2579.7 L2052.8,2579.7 M2049.3,2541 L2065.5,2534 2067,2530.4" stroke-width="8"/>
</g>

</g>
</svg>
<div class="capc">
<span style="left:436px;transform:scaleX(1.081)">Figure</span>
<span style="left:821px;transform:scaleX(1.043)">13.</span>
<span style="left:1022px;transform:scaleX(0.848)">—</span>
<span style="left:1177px;transform:scaleX(1.060)">Installation</span>
<span style="left:1804px;transform:scaleX(1.045)">radioscopique.</span>
</div>
</body></html>
